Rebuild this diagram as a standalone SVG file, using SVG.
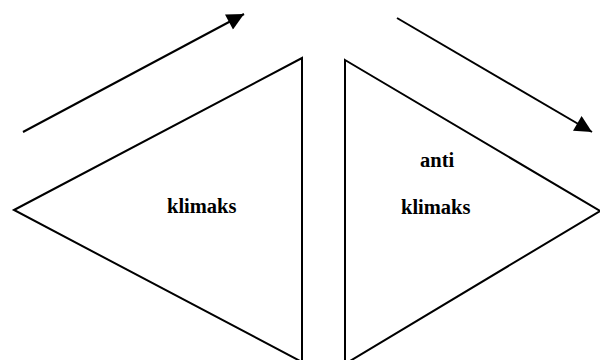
<svg xmlns="http://www.w3.org/2000/svg" width="600" height="360" viewBox="0 0 600 360">
<style>
.shape{fill:none;stroke:#000;stroke-width:2;stroke-linejoin:miter}
.conn{fill:none;stroke:#000;stroke-width:2}
.lbl{font-family:"Liberation Serif","Times New Roman",serif;font-weight:bold;font-size:20.5px;fill:#000}
</style>
<defs>
<marker id="ah" viewBox="0 0 10 10" refX="10" refY="5" markerWidth="9" markerHeight="9" markerUnits="userSpaceOnUse" orient="auto">
<path d="M0,0 L10,5 L0,10 Z" fill="#000"/>
</marker>
<marker id="ahb" viewBox="0 0 10 10" refX="10" refY="5" markerWidth="19" markerHeight="17" markerUnits="userSpaceOnUse" orient="auto">
<path d="M0,0 L10,5 L0,10 Z" fill="#000"/>
</marker>
</defs>
<rect width="600" height="360" fill="#fff"/>
<g id="klimaks">
<polygon class="shape" points="14,210 302,58 302,362"/>
<text class="lbl" x="167" y="213">klimaks</text>
</g>
<g id="antiklimaks">
<polygon class="shape" points="345,60 600,211 345,364"/>
<text class="lbl" x="420" y="167">anti</text>
<text class="lbl" x="401" y="214">klimaks</text>
</g>
<g id="connectors">
<line class="conn" x1="23" y1="132" x2="244" y2="14" marker-end="url(#ahb)"/>
<line class="conn" x1="397" y1="18" x2="592" y2="132" marker-end="url(#ahb)"/>
</g>
</svg>
